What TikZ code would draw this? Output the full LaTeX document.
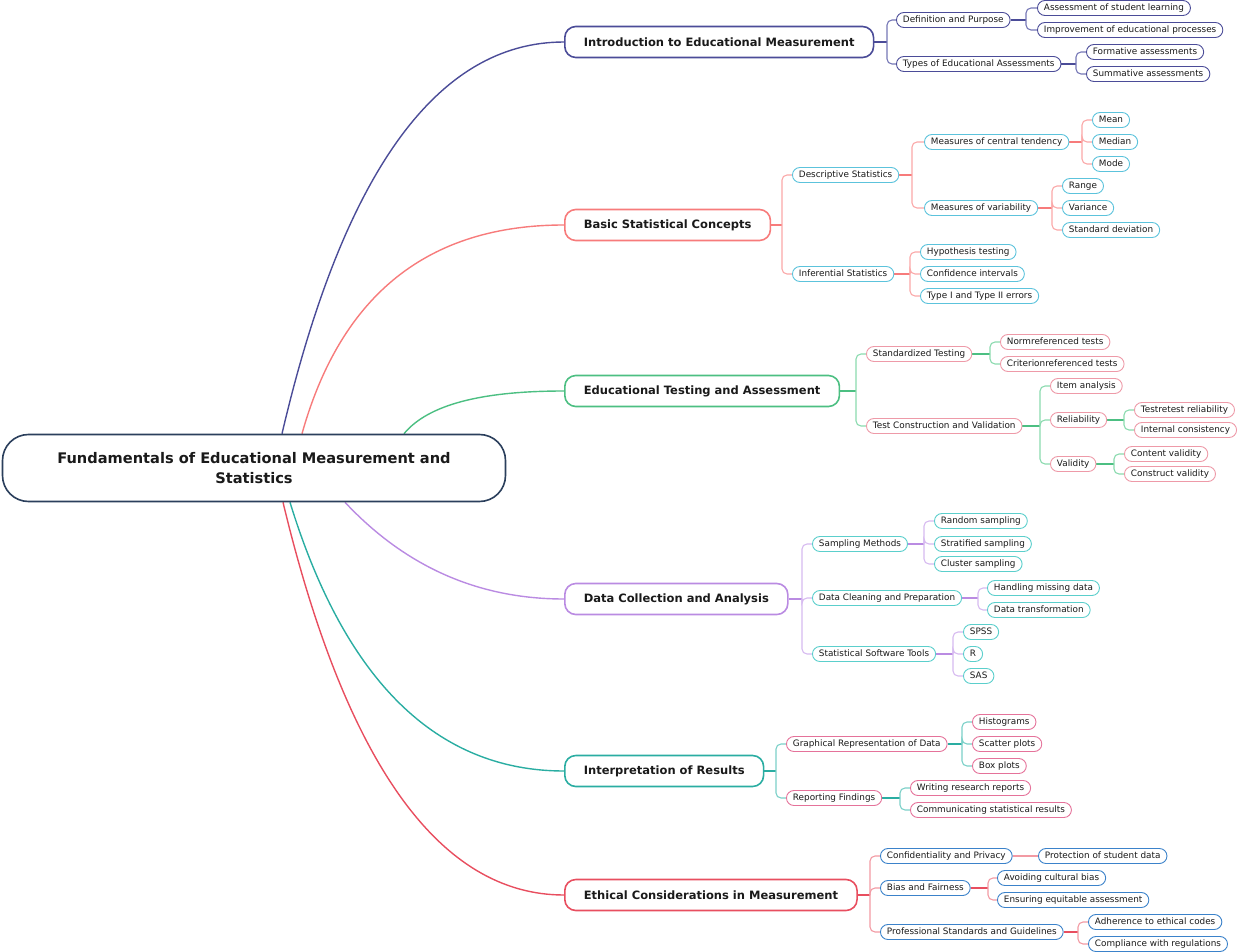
\documentclass[tikz,border=0pt]{standalone}
\usepackage{fontspec}
\setmainfont{DejaVu Sans}
\usetikzlibrary{backgrounds}

\definecolor{rootc}{HTML}{2B3F5C}
\definecolor{c1}{HTML}{4B4C98}
\definecolor{c1l}{HTML}{7577B6}
\definecolor{k1}{HTML}{4B4C98}
\definecolor{c2}{HTML}{F77B7B}
\definecolor{c2l}{HTML}{FAA8A8}
\definecolor{k2}{HTML}{5CC3DC}
\definecolor{c3}{HTML}{4CBF82}
\definecolor{c3l}{HTML}{8ADAAE}
\definecolor{k3}{HTML}{EE9AA8}
\definecolor{c4}{HTML}{BA8BE2}
\definecolor{c4l}{HTML}{D6BAF0}
\definecolor{k4}{HTML}{5BCFCC}
\definecolor{c5}{HTML}{2AADA2}
\definecolor{c5l}{HTML}{7BD0C8}
\definecolor{k5}{HTML}{E5729A}
\definecolor{c6}{HTML}{E84E5F}
\definecolor{c6l}{HTML}{F29AA3}
\definecolor{k6}{HTML}{3B82CA}
\definecolor{ink}{HTML}{1A1A1A}

\tikzset{
  leaf/.style={draw, rounded corners=7.5pt, fill=white, text=ink, line width=0.9pt,
    minimum height=15pt, inner xsep=6.5pt, inner ysep=0pt, text height=6.4pt,
    text depth=1.6pt, anchor=west, font=\fontsize{8.85}{10}\selectfont},
  main/.style={draw, rounded corners=11pt, fill=white, text=ink, line width=1.6pt,
    minimum height=31pt, inner xsep=19pt, inner ysep=0pt, anchor=west,
    font=\bfseries\fontsize{11.5}{13}\selectfont},
  rootbox/.style={draw=rootc, rounded corners=26pt, fill=white, text=ink, line width=1.6pt,
    minimum width=503pt, minimum height=67pt, align=center,
    font=\bfseries\fontsize{14.6}{20}\selectfont},
  limb/.style={line width=1.4pt},
  stub/.style={line width=1.6pt},
  twig/.style={line width=1.1pt, rounded corners=5pt},
  l1/.style={leaf, draw=k1}, l2/.style={leaf, draw=k2}, l3/.style={leaf, draw=k3},
  l4/.style={leaf, draw=k4}, l5/.style={leaf, draw=k5}, l6/.style={leaf, draw=k6},
  s1/.style={stub, draw=c1}, s2/.style={stub, draw=c2}, s3/.style={stub, draw=c3},
  s4/.style={stub, draw=c4}, s5/.style={stub, draw=c5}, s6/.style={stub, draw=c6},
  t1/.style={twig, draw=c1l}, t2/.style={twig, draw=c2l}, t3/.style={twig, draw=c3l},
  t4/.style={twig, draw=c4l}, t5/.style={twig, draw=c5l}, t6/.style={twig, draw=c6l}
}

\begin{document}
\begin{tikzpicture}[x=1pt, y=-1pt]

	\useasboundingbox (0,0) rectangle (1240,952);

	\node (R)[rootbox] at (254,468) {Fundamentals of Educational Measurement and\\Statistics};

	\node (B1)[main, draw=c1] at (564,42) {Introduction to Educational Measurement};
	\node (B2)[main, draw=c2] at (564,225) {Basic Statistical Concepts};
	\node (B3)[main, draw=c3] at (564,391) {Educational Testing and Assessment};
	\node (B4)[main, draw=c4] at (564,599) {Data Collection and Analysis};
	\node (B5)[main, draw=c5] at (564,771) {Interpretation of Results};
	\node (B6)[main, draw=c6] at (564,895) {Ethical Considerations in Measurement};

	% branch 1
	\coordinate (J1) at (887,42);
	\node (C11)[l1] at (896,20) {Definition and Purpose};
	\node (C12)[l1] at (896,64) {Types of Educational Assessments};
	\coordinate (J11) at (1026,20);
	\node (D111)[l1] at (1037,8) {Assessment of student learning};
	\node (D112)[l1] at (1037,30) {Improvement of educational processes};
	\coordinate (J12) at (1076,64);
	\node (D121)[l1] at (1086,52) {Formative assessments};
	\node (D122)[l1] at (1086,74) {Summative assessments};

	% branch 2
	\coordinate (J2) at (782,225);
	\node (C21)[l2] at (792,175) {Descriptive Statistics};
	\node (C22)[l2] at (792,274) {Inferential Statistics};
	\coordinate (J21) at (912,175);
	\node (D211)[l2] at (924,142) {Measures of central tendency};
	\node (D212)[l2] at (924,208) {Measures of variability};
	\coordinate (J211) at (1082,142);
	\node (E2111)[l2] at (1092,120) {Mean};
	\node (E2112)[l2] at (1092,142) {Median};
	\node (E2113)[l2] at (1092,164) {Mode};
	\coordinate (J212) at (1052,208);
	\node (E2121)[l2] at (1062,186) {Range};
	\node (E2122)[l2] at (1062,208) {Variance};
	\node (E2123)[l2] at (1062,230) {Standard deviation};
	\coordinate (J22) at (910,274);
	\node (D221)[l2] at (920,252) {Hypothesis testing};
	\node (D222)[l2] at (920,274) {Confidence intervals};
	\node (D223)[l2] at (920,296) {Type I and Type II errors};

	% branch 3
	\coordinate (J3) at (856,391);
	\node (C31)[l3] at (866,354) {Standardized Testing};
	\node (C32)[l3] at (866,426) {Test Construction and Validation};
	\coordinate (J31) at (990,354);
	\node (D311)[l3] at (1000,342) {Normreferenced tests};
	\node (D312)[l3] at (1000,364) {Criterionreferenced tests};
	\coordinate (J32) at (1040,426);
	\node (D321)[l3] at (1050,386) {Item analysis};
	\node (D322)[l3] at (1050,420) {Reliability};
	\node (D323)[l3] at (1050,464) {Validity};
	\coordinate (J322) at (1124,420);
	\node (E3221)[l3] at (1134,410) {Testretest reliability};
	\node (E3222)[l3] at (1134,430) {Internal consistency};
	\coordinate (J323) at (1114,464);
	\node (E3231)[l3] at (1124,454) {Content validity};
	\node (E3232)[l3] at (1124,474) {Construct validity};

	% branch 4
	\coordinate (J4) at (802,599);
	\node (C41)[l4] at (812,544) {Sampling Methods};
	\node (C42)[l4] at (812,598) {Data Cleaning and Preparation};
	\node (C43)[l4] at (812,654) {Statistical Software Tools};
	\coordinate (J41) at (924,544);
	\node (D411)[l4] at (934,521) {Random sampling};
	\node (D412)[l4] at (934,544) {Stratified sampling};
	\node (D413)[l4] at (934,564) {Cluster sampling};
	\coordinate (J42) at (978,598);
	\node (D421)[l4] at (987,588) {Handling missing data};
	\node (D422)[l4] at (987,610) {Data transformation};
	\coordinate (J43) at (953,654);
	\node (D431)[l4] at (963,632) {SPSS};
	\node (D432)[l4] at (963,654) {R};
	\node (D433)[l4] at (963,676) {SAS};

	% branch 5
	\coordinate (J5) at (776,771);
	\node (C51)[l5] at (786,744) {Graphical Representation of Data};
	\node (C52)[l5] at (786,798) {Reporting Findings};
	\coordinate (J51) at (962,744);
	\node (D511)[l5] at (972,722) {Histograms};
	\node (D512)[l5] at (972,744) {Scatter plots};
	\node (D513)[l5] at (972,766) {Box plots};
	\coordinate (J52) at (900,798);
	\node (D521)[l5] at (910,788) {Writing research reports};
	\node (D522)[l5] at (910,810) {Communicating statistical results};

	% branch 6
	\coordinate (J6) at (870,895);
	\node (C61)[l6] at (880,856) {Confidentiality and Privacy};
	\node (C62)[l6] at (880,888) {Bias and Fairness};
	\node (C63)[l6] at (880,932) {Professional Standards and Guidelines};
	\node (D611)[l6] at (1038,856) {Protection of student data};
	\coordinate (J62) at (988,888);
	\node (D621)[l6] at (997,878) {Avoiding cultural bias};
	\node (D622)[l6] at (997,900) {Ensuring equitable assessment};
	\coordinate (J63) at (1078,932);
	\node (D631)[l6] at (1088,922) {Adherence to ethical codes};
	\node (D632)[l6] at (1088,944) {Compliance with regulations};

\begin{pgfonlayer}{background}
	\draw [limb, c1] ([xshift=28pt]R.north) .. controls +(61,-261) and +(-127,0) .. (B1.west);
	\draw [limb, c2] ([xshift=48pt]R.north) .. controls +(39,-139) and +(-136,0) .. (B2.west);
	\draw [limb, c3] ([xshift=150pt]R.north) .. controls +(24,-29) and +(-83,0) .. (B3.west);
	\draw [limb, c4] ([xshift=91pt]R.south) .. controls +(61,65) and +(-85,0) .. (B4.west);
	\draw [limb, c5] ([xshift=36pt]R.south) .. controls +(55,179) and +(-127,0) .. (B5.west);
	\draw [limb, c6] ([xshift=29pt]R.south) .. controls +(63,262) and +(-124,0) .. (B6.west);

	\draw [s1] (B1) -- (J1);
	\draw [t1] (J1) |- (C11);
	\draw [t1] (J1) |- (C12);
	\draw [s1] (C11) -- (J11);
	\draw [t1] (J11) |- (D111);
	\draw [t1] (J11) |- (D112);
	\draw [s1] (C12) -- (J12);
	\draw [t1] (J12) |- (D121);
	\draw [t1] (J12) |- (D122);

	\draw [s2] (B2) -- (J2);
	\draw [t2] (J2) |- (C21);
	\draw [t2] (J2) |- (C22);
	\draw [s2] (C21) -- (J21);
	\draw [t2] (J21) |- (D211);
	\draw [t2] (J21) |- (D212);
	\draw [s2] (D211) -- (J211);
	\draw [t2] (J211) |- (E2111);
	\draw [t2] (J211) |- (E2112);
	\draw [t2] (J211) |- (E2113);
	\draw [s2] (D212) -- (J212);
	\draw [t2] (J212) |- (E2121);
	\draw [t2] (J212) |- (E2122);
	\draw [t2] (J212) |- (E2123);
	\draw [s2] (C22) -- (J22);
	\draw [t2] (J22) |- (D221);
	\draw [t2] (J22) |- (D222);
	\draw [t2] (J22) |- (D223);

	\draw [s3] (B3) -- (J3);
	\draw [t3] (J3) |- (C31);
	\draw [t3] (J3) |- (C32);
	\draw [s3] (C31) -- (J31);
	\draw [t3] (J31) |- (D311);
	\draw [t3] (J31) |- (D312);
	\draw [s3] (C32) -- (J32);
	\draw [t3] (J32) |- (D321);
	\draw [t3] (J32) |- (D322);
	\draw [t3] (J32) |- (D323);
	\draw [s3] (D322) -- (J322);
	\draw [t3] (J322) |- (E3221);
	\draw [t3] (J322) |- (E3222);
	\draw [s3] (D323) -- (J323);
	\draw [t3] (J323) |- (E3231);
	\draw [t3] (J323) |- (E3232);

	\draw [s4] (B4) -- (J4);
	\draw [t4] (J4) |- (C41);
	\draw [t4] (J4) |- (C42);
	\draw [t4] (J4) |- (C43);
	\draw [s4] (C41) -- (J41);
	\draw [t4] (J41) |- (D411);
	\draw [t4] (J41) |- (D412);
	\draw [t4] (J41) |- (D413);
	\draw [s4] (C42) -- (J42);
	\draw [t4] (J42) |- (D421);
	\draw [t4] (J42) |- (D422);
	\draw [s4] (C43) -- (J43);
	\draw [t4] (J43) |- (D431);
	\draw [t4] (J43) |- (D432);
	\draw [t4] (J43) |- (D433);

	\draw [s5] (B5) -- (J5);
	\draw [t5] (J5) |- (C51);
	\draw [t5] (J5) |- (C52);
	\draw [s5] (C51) -- (J51);
	\draw [t5] (J51) |- (D511);
	\draw [t5] (J51) |- (D512);
	\draw [t5] (J51) |- (D513);
	\draw [s5] (C52) -- (J52);
	\draw [t5] (J52) |- (D521);
	\draw [t5] (J52) |- (D522);

	\draw [s6] (B6) -- (J6);
	\draw [t6] (J6) |- (C61);
	\draw [t6] (J6) |- (C62);
	\draw [t6] (J6) |- (C63);
	\draw [t6] (C61) -- (D611);
	\draw [s6] (C62) -- (J62);
	\draw [t6] (J62) |- (D621);
	\draw [t6] (J62) |- (D622);
	\draw [s6] (C63) -- (J63);
	\draw [t6] (J63) |- (D631);
	\draw [t6] (J63) |- (D632);
\end{pgfonlayer}

\end{tikzpicture}
\end{document}
